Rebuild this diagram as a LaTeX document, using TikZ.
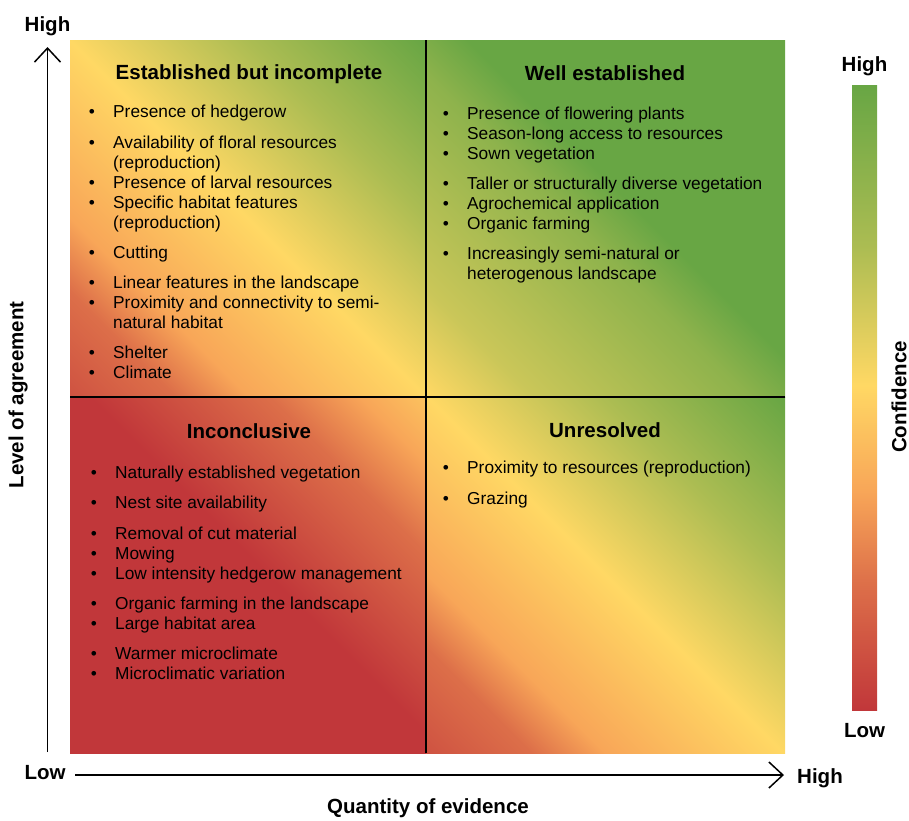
\documentclass[tikz,border=0pt]{standalone}
\usepackage{fontspec}
\setmainfont{Liberation Sans}
\usetikzlibrary{arrows.meta, positioning}

\definecolor{cred}{RGB}{193,55,58}
\definecolor{corange}{RGB}{248,166,88}
\definecolor{cyellow}{RGB}{255,216,100}
\definecolor{cgreen}{RGB}{104,166,68}
\colorlet{csalmon}{cred!50!corange}
\colorlet{cdeep}{cred!75!corange}
\colorlet{cpeach}{cyellow!55!corange}
\colorlet{cstraw}{cyellow!65!cgreen}
\colorlet{colive}{cyellow!45!cgreen}
\colorlet{clime}{cyellow!25!cgreen}

% diagonal gradients: corner to corner runs from 14.64bp to 85.36bp
\pgfdeclarehorizontalshading{fullgrad}{100bp}{color(0bp)=(cred); color(14.64bp)=(cdeep); color(25bp)=(csalmon); color(32.3bp)=(corange); color(50bp)=(cyellow); color(67.7bp)=(colive); color(85.36bp)=(cgreen); color(100bp)=(cgreen)}
\pgfdeclarehorizontalshading{greengrad}{100bp}{color(0bp)=(cyellow); color(14.64bp)=(cyellow); color(25.2bp)=(cstraw); color(35.9bp)=(colive); color(46.5bp)=(clime); color(54bp)=(cgreen); color(100bp)=(cgreen)}
\pgfdeclarehorizontalshading{redgrad}{100bp}{color(0bp)=(cred); color(14.64bp)=(cred); color(52bp)=(cred); color(61bp)=(cdeep); color(70bp)=(csalmon); color(79bp)=(corange); color(85.36bp)=(cpeach); color(100bp)=(cpeach)}
\pgfdeclareverticalshading{confgrad}{100bp}{color(0bp)=(cred); color(25bp)=(cred); color(35bp)=(csalmon); color(42.5bp)=(corange); color(51bp)=(cyellow); color(62bp)=(colive); color(75bp)=(cgreen); color(100bp)=(cgreen)}

\begin{document}
\begin{tikzpicture}[x=1pt, y=-1pt,
    every node/.style={inner sep=0pt},
    axislabel/.style={font=\bfseries\fontsize{20.5}{23}\selectfont},
    quadhead/.style={anchor=base, font=\bfseries\fontsize{20.5}{23}\selectfont},
    itemline/.style={anchor=base west, font=\fontsize{17.3}{20}\selectfont},
    itemdot/.style={anchor=base, font=\fontsize{17.3}{20}\selectfont},
    divider/.style={line width=1.6pt},
    axisarrow/.style={line width=1.5pt, -{Straight Barb[length=14pt,width=26pt]}}]
  \useasboundingbox (0,0) rectangle (909,820);

  % Quadrant backgrounds
  \shade[shading=fullgrad, shading angle=45] (70,40) rectangle (426,397);
  \shade[shading=greengrad, shading angle=45] (426,40) rectangle (785,397);
  \shade[shading=redgrad, shading angle=45] (70,397) rectangle (426,753);
  \shade[shading=fullgrad, shading angle=45] (426,397) rectangle (785,753);

  % Dividers
  \draw[divider] (426,40) -- (426,753);
  \draw[divider] (70,397) -- (785,397);

  % Axes
  \coordinate (yfoot) at (47.5,752);
  \coordinate (ytip) at (47.5,47);
  \coordinate (xfoot) at (75,775);
  \coordinate (xtip) at (784,775);
  \draw[axisarrow] (yfoot) -- (ytip);
  \draw[axisarrow] (xfoot) -- (xtip);
  \node[axislabel, anchor=base] (yhigh) at (47.5,31) {High};
  \node[axislabel] (xlow) at (45,773) {Low};
  \node[axislabel] (xhigh) at (820,778) {High};
  \node[axislabel] (xtitle) at (428,808) {Quantity of evidence};
  \node[axislabel, rotate=90] (ytitle) at (18,395) {Level of agreement};

  % Established but incomplete
  \node[quadhead] (tlhead) at (249,79) {Established but incomplete};
  \foreach \y in {117,148,188,208,258,288,308,358,378}
    \node[itemdot] (tldot-\y) at (92,\y) {\textbullet};
  \foreach \y/\t in {117/{Presence of hedgerow}, 148/{Availability of floral resources}, 168/{(reproduction)}, 188/{Presence of larval resources}, 208/{Specific habitat features}, 228/{(reproduction)}, 258/{Cutting}, 288/{Linear features in the landscape}, 308/{Proximity and connectivity to semi-}, 328/{natural habitat}, 358/{Shelter}, 378/{Climate}}
    \node[itemline] (tl-\y) at (113,\y) {\t};

  % Well established
  \node[quadhead] (trhead) at (605,80) {Well established};
  \foreach \y in {119,139,159,189,209,229,259}
    \node[itemdot] (trdot-\y) at (446,\y) {\textbullet};
  \foreach \y/\t in {119/{Presence of flowering plants}, 139/{Season-long access to resources}, 159/{Sown vegetation}, 189/{Taller or structurally diverse vegetation}, 209/{Agrochemical application}, 229/{Organic farming}, 259/{Increasingly semi-natural or}, 279/{heterogenous landscape}}
    \node[itemline] (tr-\y) at (467,\y) {\t};

  % Inconclusive
  \node[quadhead] (blhead) at (249,438) {Inconclusive};
  \foreach \y in {478,508,539,559,579,609,629,659,679}
    \node[itemdot] (bldot-\y) at (94,\y) {\textbullet};
  \foreach \y/\t in {478/{Naturally established vegetation}, 508/{Nest site availability}, 539/{Removal of cut material}, 559/{Mowing}, 579/{Low intensity hedgerow management}, 609/{Organic farming in the landscape}, 629/{Large habitat area}, 659/{Warmer microclimate}, 679/{Microclimatic variation}}
    \node[itemline] (bl-\y) at (115,\y) {\t};

  % Unresolved
  \node[quadhead] (brhead) at (605,437) {Unresolved};
  \foreach \y in {473,504}
    \node[itemdot] (brdot-\y) at (446,\y) {\textbullet};
  \foreach \y/\t in {473/{Proximity to resources (reproduction)}, 504/{Grazing}}
    \node[itemline] (br-\y) at (467,\y) {\t};

  % Confidence scale
  \shade[shading=confgrad] (852,85) rectangle (877,710);
  \node[axislabel] (chigh) at (864.5,66) {High};
  \node[axislabel] (clow) at (864.5,731) {Low};
  \node[axislabel, rotate=90] (ctitle) at (899,397) {Confidence};
\end{tikzpicture}
\end{document}
